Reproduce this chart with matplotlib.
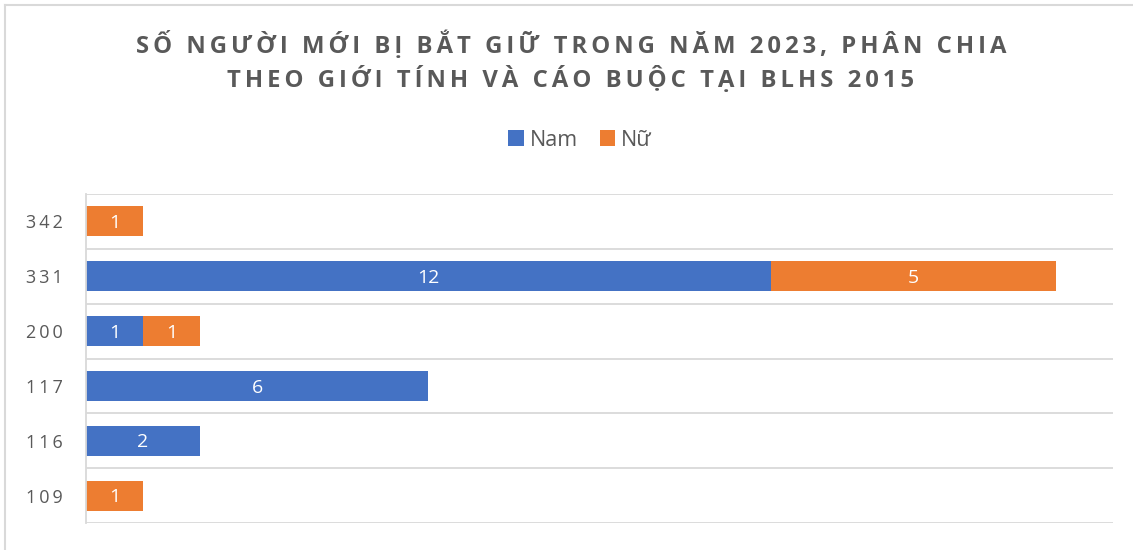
import matplotlib.pyplot as plt
import numpy as np
from matplotlib.lines import Line2D

# Data
articles = ["109", "116", "117", "200", "331", "342"]
nam = [0, 2, 6, 1, 12, 0]
nu = [1, 0, 0, 1, 5, 1]

blue = "#4472C4"
orange = "#ED7D31"
text_gray = "#595959"
grid_gray = "#D9D9D9"

plt.rcParams['font.family'] = ['Open Sans', 'DejaVu Sans']


def spaced(s, sep="\u2006"):
    # fake letter spacing with a narrow space between characters
    return sep.join(s)


fig = plt.figure(figsize=(11.33, 5.5), dpi=100)
ax = fig.add_axes([86 / 1133, 1 - 523 / 550, (1113 - 86) / 1133, (523 - 194) / 550])

y = np.arange(len(articles))
bh = 0.55
b1 = ax.barh(y, nam, height=bh, color=blue, label="Nam")
b2 = ax.barh(y, nu, left=nam, height=bh, color=orange, label="Nữ")

for bars, vals in [(b1, nam), (b2, nu)]:
    for rect, v in zip(bars, vals):
        if v > 0:
            ax.text(rect.get_x() + rect.get_width() / 2, rect.get_y() + rect.get_height() / 2 - 0.03,
                    str(v), ha="center", va="center", color="white", fontsize=14)

ax.set_xlim(0, 18)
ax.set_ylim(-0.5, len(articles) - 0.5)
ax.set_xticks([])
ax.set_yticks(y)
ax.set_yticklabels([spaced(a, "\u2009") for a in articles], fontsize=13, color=text_gray)
ax.tick_params(axis="y", length=0, pad=17)

# gridlines between categories
for gy in np.arange(-0.5, len(articles), 1.0):
    ax.axhline(gy, color=grid_gray, lw=1.3, zorder=0)

for s in ["top", "right", "bottom"]:
    ax.spines[s].set_visible(False)
ax.spines["left"].set_color(grid_gray)
ax.spines["left"].set_linewidth(1.3)

# title
fig.text(0.504, 1 - 45 / 550, spaced("SỐ NGƯỜI MỚI BỊ BẮT GIỮ TRONG NĂM 2023, PHÂN CHIA"),
         ha="center", va="center", fontsize=17.2, fontweight="bold", color=text_gray)
fig.text(0.504, 1 - 80 / 550, spaced("THEO GIỚI TÍNH VÀ CÁO BUỘC TẠI BLHS 2015"),
         ha="center", va="center", fontsize=17.2, fontweight="bold", color=text_gray)

# legend
fig.legend(handles=[b1, b2], loc="center", bbox_to_anchor=(0.512, 1 - 140 / 550), ncol=2,
           frameon=False, fontsize=15.5, labelcolor=text_gray, handlelength=0.7,
           handleheight=0.7, handletextpad=0.3, columnspacing=1.0)

# chart border (top and left edges visible)
fig.add_artist(Line2D([5 / 1133, 1.0], [1 - 5 / 550] * 2, color=grid_gray, lw=1.5))
fig.add_artist(Line2D([5 / 1133] * 2, [0, 1 - 5 / 550], color=grid_gray, lw=1.5))

fig.savefig("out.png", dpi=100)
